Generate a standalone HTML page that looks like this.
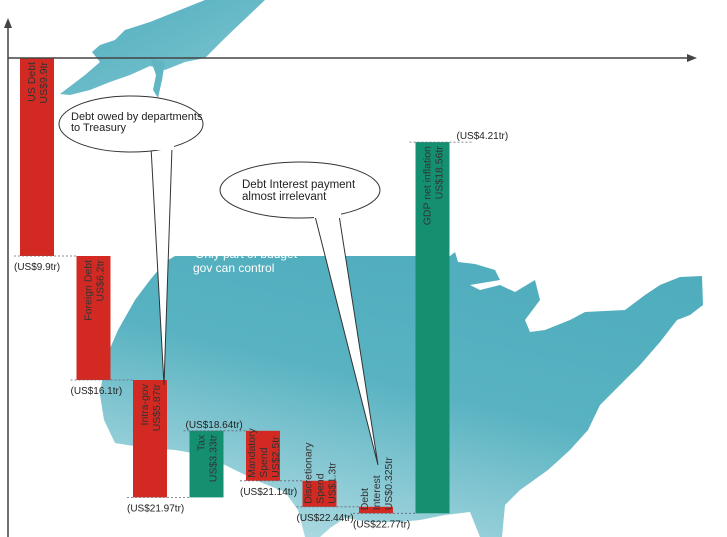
<!DOCTYPE html>
<html><head><meta charset="utf-8"><style>
html,body{margin:0;padding:0;background:#fff;}
svg{display:block;font-family:"Liberation Sans",sans-serif;}
</style></head><body>
<svg id="c" width="727" height="537" viewBox="0 0 727 537">
<defs>
<linearGradient id="mapg" x1="0.7" y1="0" x2="0.2" y2="1">
<stop offset="0" stop-color="#4fadbd"/><stop offset="0.45" stop-color="#58b2c1"/><stop offset="1" stop-color="#b3dde4"/>
</linearGradient>
<linearGradient id="akg" x1="0" y1="0" x2="1" y2="1">
<stop offset="0" stop-color="#4fadbd"/><stop offset="1" stop-color="#80c6d2"/>
</linearGradient>
</defs>
<g>
<polygon fill="url(#akg)" points="92,52 100,45 115,40 125,30 150,22 175,12 205,0 265,0 225,38 205,58 185,62 165,70 150,66 130,75 110,82 90,90 70,95 60,94 85,75 100,62"/>
<polygon fill="#62b6c4" points="150,58 165,62 162,80 158,98 153,90 156,75"/>
<polygon fill="url(#mapg)" points="165,262 175,256 415,256 450,256 455,252 458,262 475,264 495,270 500,280 470,285 480,290 500,285 515,292 535,280 540,300 525,320 530,332 545,330 570,320 585,312 625,310 645,295 660,285 680,277 702,276 703,305 690,315 677,320 660,342 640,365 620,385 600,405 588,430 570,450 548,470 520,490 505,505 502,537 480,537 470,512 445,515 420,520 400,522 370,522 345,518 330,528 320,537 305,537 298,510 285,492 260,482 235,470 205,455 175,450 140,447 115,443 104,420 100,395 105,360 118,330 135,300 150,280"/>
<text x="195" y="258" fill="#ffffff" font-size="12">Only part of budget</text>
<text x="193" y="272" fill="#ffffff" font-size="12">gov can control</text>
</g>
<g id="bars"></g>
<g>
<line x1="8" y1="537" x2="8" y2="24" stroke="#444" stroke-width="1.5"/>
<polygon points="8,18 4,28 12,28" fill="#444"/>
<line x1="8" y1="58" x2="690" y2="58" stroke="#444" stroke-width="1.5"/>
<polygon points="697,58 687,54 687,62" fill="#444"/>
</g>
<g>
<path d="M151,147 L164,385 L172,147" fill="#fff" stroke="#333" stroke-width="1"/>
<ellipse cx="131" cy="124" rx="72" ry="28" fill="#fff" stroke="#333" stroke-width="1"/>
<rect x="150" y="144" width="24" height="6" fill="#fff"/>
<text x="71" y="120" font-size="11" fill="#222">Debt owed by departments</text>
<text x="71" y="131" font-size="11" fill="#222">to Treasury</text>
</g>
<g>
<path d="M315,216 L378,465 L339,215" fill="#fff" stroke="#333" stroke-width="1"/>
<ellipse cx="300" cy="190" rx="80" ry="28" fill="#fff" stroke="#333" stroke-width="1"/>
<rect x="314" y="212" width="27" height="6" fill="#fff"/>
<text x="242" y="188" font-size="11.5" fill="#222">Debt Interest payment</text>
<text x="242" y="200" font-size="11.5" fill="#222">almost irrelevant</text>
</g>
</svg>
<script>
const categories = ["US Debt","Foreign Debt","Intra-gov","Tax","Mandatory spend","Discretionary spend","Debt interest","GDP net inflation"];
const barLabels = [["US Debt","US$9.9tr"],["Foreign Debt","US$6.2tr"],["Intra-gov","US$5.87tr"],["Tax","US$3.33tr"],["Mandatory","Spend","US$2.5tr"],["Discretionary","Spend","US$1.3tr"],["Debt","Interest","US$0.325tr"],["GDP net inflation","US$18.56tr"]];
const deltas = [9.9, 6.2, 5.87, -3.33, 2.5, 1.3, 0.325, -18.56];
const totalLabels = ["(US$9.9tr)","(US$16.1tr)","(US$21.97tr)","(US$18.64tr)","(US$21.14tr)","(US$22.44tr)","(US$22.77tr)","(US$4.21tr)"];

const svgNS = "http://www.w3.org/2000/svg";
const g = document.getElementById('bars');
const y0 = 58, pxPerTr = 20;
const yScale = v => y0 + v * pxPerTr;
const xLeft = i => 20 + i * 56.5;
const bw = 34;
let cum = 0;
deltas.forEach((d, i) => {
  const start = cum, end = cum + d; cum = end;
  const top = yScale(Math.min(start, end)), bot = yScale(Math.max(start, end));
  const x = xLeft(i);
  const r = document.createElementNS(svgNS, 'rect');
  
  
  r.setAttribute('x', x); r.setAttribute('y', top);
  r.setAttribute('width', bw); r.setAttribute('height', Math.max(bot - top, 1));
  r.setAttribute('fill', d >= 0 ? '#d22a22' : '#149070');
  g.appendChild(r);
  const ly = yScale(end);
  const l = document.createElementNS(svgNS, 'line');
  
  
  l.setAttribute('x1', x - 6); l.setAttribute('x2', x + bw + 22);
  l.setAttribute('y1', ly); l.setAttribute('y2', ly);
  l.setAttribute('stroke', '#667'); l.setAttribute('stroke-dasharray', '2,2'); l.setAttribute('stroke-width', '0.8');
  g.appendChild(l);
  const lines = barLabels[i];
  const small = (bot - top) < 60;
  const t = document.createElementNS(svgNS, 'text');
  
  
  const cx = x + bw / 2;
  const ty = small ? bot - 3 : top + 4;
  t.setAttribute('transform', `translate(${cx - (lines.length - 1) * 6},${ty}) rotate(-90)`);
  t.setAttribute('text-anchor', small ? 'start' : 'end');
  t.setAttribute('font-size', '10.5');
  t.setAttribute('fill', '#333');
  lines.forEach((s, k) => {
    const sp = document.createElementNS(svgNS, 'tspan');
    sp.setAttribute('x', 0); sp.setAttribute('y', k * 12 + 4);
    sp.textContent = s; t.appendChild(sp);
  });
  g.appendChild(t);
  const tl = document.createElementNS(svgNS, 'text');
  
  
  tl.setAttribute('font-size', '10'); tl.setAttribute('fill', '#222');
  if (i === deltas.length - 1) { tl.setAttribute('x', x + 41); tl.setAttribute('y', ly - 3); }
  else if (d < 0) { tl.setAttribute('x', x - 4); tl.setAttribute('y', ly - 3); }
  else { tl.setAttribute('x', x - 6); tl.setAttribute('y', ly + 14); }
  tl.textContent = totalLabels[i];
  g.appendChild(tl);
});
</script>
</body></html>
